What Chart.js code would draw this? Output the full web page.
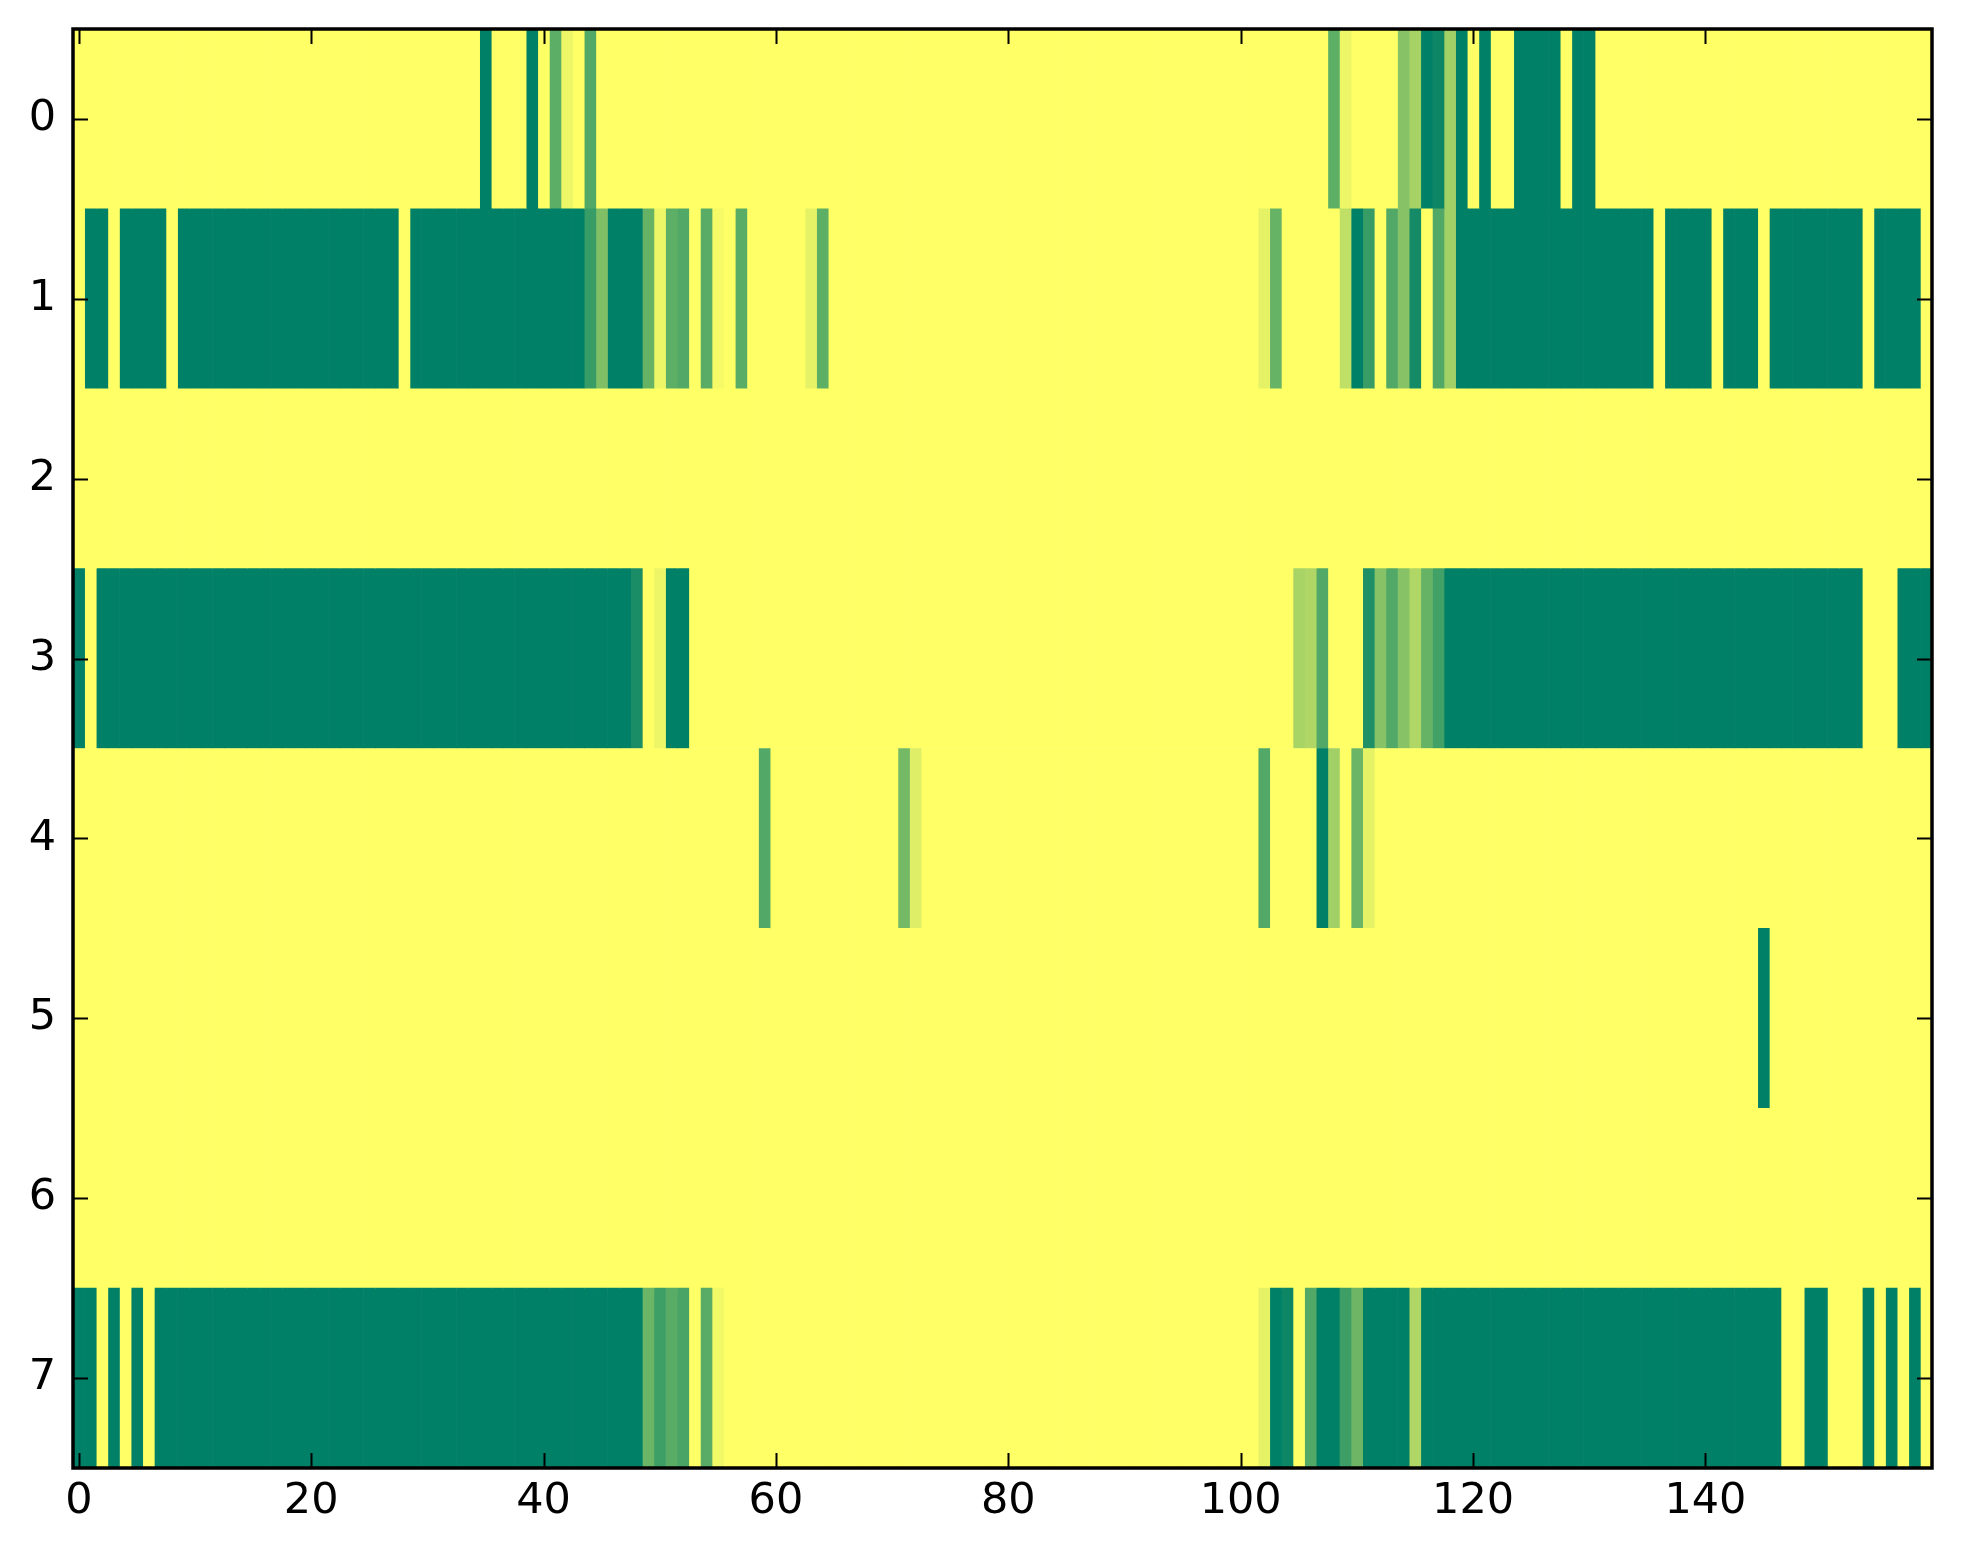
<!DOCTYPE html>
<html>
<head>
<meta charset="utf-8">
<title>Heatmap</title>
<script src="https://cdn.jsdelivr.net/npm/chart.js@4.4.1/dist/chart.umd.min.js"></script>
<style>
  html, body { margin: 0; padding: 0; background: #fff; }
  #wrap { width: 1963px; height: 1564px; }
</style>
</head>
<body>
<div id="wrap"><canvas id="heat" width="1963" height="1564"></canvas></div>
<script>
// Row labels (y axis) and x tick labels
const rowLabels = ['0', '1', '2', '3', '4', '5', '6', '7'];
const xTicks = [0, 20, 40, 60, 80, 100, 120, 140];
const columnCount = 160;

// Cell values per row, 0 = dark green, 1 = yellow (summer colormap)
// each line holds 20 columns
const row0 = [
  1,1,1,1,1,1,1,1,1,1, 1,1,1,1,1,1,1,1,1,1,
  1,1,1,1,1,1,1,1,1,1, 1,1,1,1,1,0,1,1,1,0,
  1,.36,.93,1,.32,1,1,1,1,1, 1,1,1,1,1,1,1,1,1,1,
  1,1,1,1,1,1,1,1,1,1, 1,1,1,1,1,1,1,1,1,1,
  1,1,1,1,1,1,1,1,1,1, 1,1,1,1,1,1,1,1,1,1,
  1,1,1,1,1,1,1,1,.37,.93, 1,1,1,1,.53,.65,0,.05,.63,0,
  1,0,1,1,0,0,0,0,1,0, 0,1,1,1,1,1,1,1,1,1,
  1,1,1,1,1,1,1,1,1,1, 1,1,1,1,1,1,1,1,1,1
];
const row1 = [
  1,0,0,1,0,0,0,0,1,0, 0,0,0,0,0,0,0,0,0,0,
  0,0,0,0,0,0,0,0,1,0, 0,0,0,0,0,0,0,0,0,0,
  0,0,0,0,.22,.5,0,0,0,.4, .93,.37,.32,1,.35,.96,1,.35,1,1,
  1,1,1,.9,.37,1,1,1,1,1, 1,1,1,1,1,1,1,1,1,1,
  1,1,1,1,1,1,1,1,1,1, 1,1,1,1,1,1,1,1,1,1,
  1,1,.9,.4,1,1,1,1,1,.75, 0,.22,1,.32,.53,.08,1,.32,.63,0,
  0,0,0,0,0,0,0,0,0,0, 0,0,0,0,0,0,1,0,0,0,
  0,1,0,0,0,1,0,0,0,0, 0,0,0,0,1,0,0,0,0,1
];
const row2 = [
  1,1,1,1,1,1,1,1,1,1, 1,1,1,1,1,1,1,1,1,1,
  1,1,1,1,1,1,1,1,1,1, 1,1,1,1,1,1,1,1,1,1,
  1,1,1,1,1,1,1,1,1,1, 1,1,1,1,1,1,1,1,1,1,
  1,1,1,1,1,1,1,1,1,1, 1,1,1,1,1,1,1,1,1,1,
  1,1,1,1,1,1,1,1,1,1, 1,1,1,1,1,1,1,1,1,1,
  1,1,1,1,1,1,1,1,1,1, 1,1,1,1,1,1,1,1,1,1,
  1,1,1,1,1,1,1,1,1,1, 1,1,1,1,1,1,1,1,1,1,
  1,1,1,1,1,1,1,1,1,1, 1,1,1,1,1,1,1,1,1,1
];
const row3 = [
  0,1,0,0,0,0,0,0,0,0, 0,0,0,0,0,0,0,0,0,0,
  0,0,0,0,0,0,0,0,0,0, 0,0,0,0,0,0,0,0,0,0,
  0,0,0,0,0,0,0,0,.1,1, .93,0,0,1,1,1,1,1,1,1,
  1,1,1,1,1,1,1,1,1,1, 1,1,1,1,1,1,1,1,1,1,
  1,1,1,1,1,1,1,1,1,1, 1,1,1,1,1,1,1,1,1,1,
  1,1,1,1,1,.66,.69,.32,1,1, 1,.12,.53,.32,.53,.69,.4,.26,0,0,
  0,0,0,0,0,0,0,0,0,0, 0,0,0,0,0,0,0,0,0,0,
  0,0,0,0,0,0,0,0,0,0, 0,0,0,0,1,1,1,0,0,0
];
const row4 = [
  1,1,1,1,1,1,1,1,1,1, 1,1,1,1,1,1,1,1,1,1,
  1,1,1,1,1,1,1,1,1,1, 1,1,1,1,1,1,1,1,1,1,
  1,1,1,1,1,1,1,1,1,1, 1,1,1,1,1,1,1,1,1,.32,
  1,1,1,1,1,1,1,1,1,1, 1,.45,.87,1,1,1,1,1,1,1,
  1,1,1,1,1,1,1,1,1,1, 1,1,1,1,1,1,1,1,1,1,
  1,1,.32,1,1,1,1,0,.63,1, .42,.9,1,1,1,1,1,1,1,1,
  1,1,1,1,1,1,1,1,1,1, 1,1,1,1,1,1,1,1,1,1,
  1,1,1,1,1,1,1,1,1,1, 1,1,1,1,1,1,1,1,1,1
];
const row5 = [
  1,1,1,1,1,1,1,1,1,1, 1,1,1,1,1,1,1,1,1,1,
  1,1,1,1,1,1,1,1,1,1, 1,1,1,1,1,1,1,1,1,1,
  1,1,1,1,1,1,1,1,1,1, 1,1,1,1,1,1,1,1,1,1,
  1,1,1,1,1,1,1,1,1,1, 1,1,1,1,1,1,1,1,1,1,
  1,1,1,1,1,1,1,1,1,1, 1,1,1,1,1,1,1,1,1,1,
  1,1,1,1,1,1,1,1,1,1, 1,1,1,1,1,1,1,1,1,1,
  1,1,1,1,1,1,1,1,1,1, 1,1,1,1,1,1,1,1,1,1,
  1,1,1,1,1,0,1,1,1,1, 1,1,1,1,1,1,1,1,1,1
];
const row6 = [
  1,1,1,1,1,1,1,1,1,1, 1,1,1,1,1,1,1,1,1,1,
  1,1,1,1,1,1,1,1,1,1, 1,1,1,1,1,1,1,1,1,1,
  1,1,1,1,1,1,1,1,1,1, 1,1,1,1,1,1,1,1,1,1,
  1,1,1,1,1,1,1,1,1,1, 1,1,1,1,1,1,1,1,1,1,
  1,1,1,1,1,1,1,1,1,1, 1,1,1,1,1,1,1,1,1,1,
  1,1,1,1,1,1,1,1,1,1, 1,1,1,1,1,1,1,1,1,1,
  1,1,1,1,1,1,1,1,1,1, 1,1,1,1,1,1,1,1,1,1,
  1,1,1,1,1,1,1,1,1,1, 1,1,1,1,1,1,1,1,1,1
];
const row7 = [
  0,0,1,0,1,0,1,0,0,0, 0,0,0,0,0,0,0,0,0,0,
  0,0,0,0,0,0,0,0,0,0, 0,0,0,0,0,0,0,0,0,0,
  0,0,0,0,0,0,0,0,0,.42, .24,.35,.29,1,.35,.95,1,1,1,1,
  1,1,1,1,1,1,1,1,1,1, 1,1,1,1,1,1,1,1,1,1,
  1,1,1,1,1,1,1,1,1,1, 1,1,1,1,1,1,1,1,1,1,
  1,1,.9,0,.05,1,.32,0,0,.24, .43,0,0,0,0,.69,0,0,0,0,
  0,0,0,0,0,0,0,0,0,0, 0,0,0,0,0,0,0,0,0,0,
  0,0,0,0,0,0,0,1,1,0, 0,1,1,1,0,1,0,1,0,1
];

const grid = [row0, row1, row2, row3, row4, row5, row6, row7];

// matplotlib "summer": r = v, g = 0.5 + 0.5v, b = 0.4
function summer(v) {
  const r = Math.round(255 * v);
  const g = Math.round(127.5 + 127.5 * v);
  return `rgb(${r}, ${g}, 102)`;
}

// one dataset per column, each holding a floating bar for every row
const datasets = [];
for (let c = 0; c < columnCount; c++) {
  datasets.push({
    data: rowLabels.map(() => [c - 0.5, c + 0.5]),
    backgroundColor: grid.map(row => summer(row[c])),
    borderWidth: 0,
    grouped: false,
    barPercentage: 1,
    categoryPercentage: 1
  });
}

// inward ticks on all four sides plus the frame
const framePlugin = {
  id: 'frame',
  afterDraw(chart) {
    const { ctx, chartArea: a, scales } = chart;
    const x = scales.x, y = scales.y;
    const len = 15;
    ctx.save();
    ctx.strokeStyle = '#000';
    ctx.lineWidth = 2;
    ctx.beginPath();
    x.ticks.forEach(t => {
      const px = Math.round(x.getPixelForValue(t.value)) + 0.5;
      ctx.moveTo(px, a.bottom); ctx.lineTo(px, a.bottom - len);
      ctx.moveTo(px, a.top); ctx.lineTo(px, a.top + len);
    });
    y.ticks.forEach((t, i) => {
      const py = Math.round(y.getPixelForTick(i)) + 0.5;
      ctx.moveTo(a.left, py); ctx.lineTo(a.left + len, py);
      ctx.moveTo(a.right, py); ctx.lineTo(a.right - len, py);
    });
    ctx.stroke();
    ctx.lineWidth = 3.5;
    ctx.strokeRect(a.left, a.top, a.right - a.left, a.bottom - a.top);
    ctx.restore();
  }
};

const tickFont = { family: 'DejaVu Sans', size: 43 };

new Chart(document.getElementById('heat').getContext('2d'), {
  type: 'bar',
  data: { labels: rowLabels, datasets: datasets },
  options: {
    indexAxis: 'y',
    responsive: false,
    devicePixelRatio: 1,
    animation: false,
    layout: { padding: { left: 0, top: 29, right: 31, bottom: 0 } },
    plugins: {
      legend: { display: false },
      tooltip: { enabled: false }
    },
    scales: {
      x: {
        type: 'linear',
        min: -0.5,
        max: columnCount - 0.5,
        afterBuildTicks: s => { s.ticks = xTicks.map(v => ({ value: v })); },
        afterFit: s => { s.height = 96; s.paddingLeft = 0; s.paddingRight = 0; },
        grid: { display: false, drawTicks: false },
        border: { display: false },
        ticks: { font: tickFont, color: '#000', padding: 8, maxRotation: 0, autoSkip: false }
      },
      y: {
        type: 'category',
        offset: true,
        afterFit: s => { s.width = 73; s.paddingTop = 0; s.paddingBottom = 0; },
        grid: { display: false, drawTicks: false },
        border: { display: false },
        ticks: { font: tickFont, color: '#000', padding: 17 }
      }
    }
  },
  plugins: [framePlugin]
});
</script>
</body>
</html>
